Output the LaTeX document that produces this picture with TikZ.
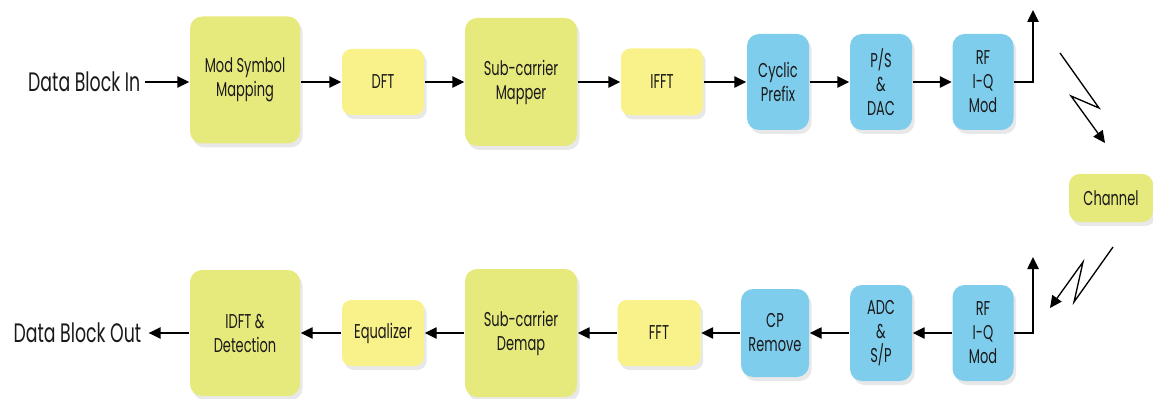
\documentclass[tikz,border=0pt]{standalone}
\usepackage{fontspec}
\setmainfont[FakeStretch=0.65]{Poppins}
\usetikzlibrary{arrows.meta,shadows}

\definecolor{ygreen}{HTML}{E6E97C}
\definecolor{yell}{HTML}{F9F189}
\definecolor{blu}{HTML}{7ECDEC}
\definecolor{txt}{HTML}{1A1A1A}

\tikzset{every picture/.style={line width=1.1pt}}
\tikzset{
  sz/.style 2 args={minimum width=#1*0.75pt, minimum height=#2*0.75pt},
  blk/.style={rounded corners=9pt, inner sep=0pt, align=center, text=txt,
    font=\fontsize{15}{18}\selectfont,
    drop shadow={shadow xshift=2pt, shadow yshift=-3pt, opacity=0.18}},
  bigblk/.style={blk, fill=ygreen},
  fftblk/.style={blk, fill=yell, rounded corners=7pt},
  rfblk/.style={blk, fill=blu},
  arr/.style={-{Triangle[length=9pt,width=8.5pt]}, draw=black},
  lbl/.style={font=\fontsize{20}{24}\selectfont, text=txt, inner sep=0pt}
}

\begin{document}
\begin{tikzpicture}[x=0.75pt,y=0.75pt,yscale=-1,xscale=1]
\useasboundingbox (0,0) rectangle (1153,399);

% Transmitter
\node[lbl, anchor=east] (din) at (141,82) {Data Block In};
\node[bigblk, sz={110}{127}] (mod) at (245,80) {Mod Symbol\\Mapping};
\node[fftblk, sz={82}{66}] (dft) at (383,82) {DFT};
\node[bigblk, sz={112}{128}] (map) at (521,82) {Sub-carrier\\Mapper};
\node[fftblk, sz={82}{67}] (ifft) at (662,82) {IFFT};
\node[rfblk, sz={62}{96}] (cp) at (778,82) {Cyclic\\Prefix};
\node[rfblk, sz={62}{96}] (ps) at (881,82) {P/S\\\&\\DAC};
\node[rfblk, sz={61}{96}] (rftx) at (983,82) {RF\\I-Q\\Mod};

\draw[arr] (din.east) ++(4,0) -- (mod.west |- din.east);
\draw[arr] (mod.east |- dft) -- (dft);
\draw[arr] (dft) -- (map);
\draw[arr] (map.east |- ifft) -- (ifft);
\draw[arr] (ifft) -- (cp);
\draw[arr] (cp) -- (ps);
\draw[arr] (ps) -- (rftx);

% Antenna tx
\coordinate (anttx) at (1033,10);
\draw[arr] (rftx.east) -| (anttx);

% Channel
\node[bigblk, sz={84}{48}, rounded corners=8pt] (chan) at (1111,198) {Channel};

\coordinate (z1a) at (1060,53);
\coordinate (z1b) at (1099,108);
\coordinate (z1c) at (1071,96);
\coordinate (z1d) at (1105,143);
\draw[arr, line width=1pt] (z1a) -- (z1b) -- (z1c) -- (z1d);

\coordinate (z2a) at (1113,247);
\coordinate (z2b) at (1074,302);
\coordinate (z2c) at (1083,262);
\coordinate (z2d) at (1050,308);
\draw[arr, line width=1pt] (z2a) -- (z2b) -- (z2c) -- (z2d);

% Receiver
\node[rfblk, sz={61}{96}] (rfrx) at (983,333) {RF\\I-Q\\Mod};
\node[rfblk, sz={62}{96}] (adc) at (881,333) {ADC\\\&\\S/P};
\node[rfblk, sz={68}{88}] (cpr) at (775,333) {CP\\Remove};
\node[fftblk, sz={83}{66}] (fft) at (659,333) {FFT};
\node[bigblk, sz={112}{128}] (demap) at (521,333) {Sub-carrier\\Demap};
\node[fftblk, sz={82}{66}] (eq) at (383,333) {Equalizer};
\node[bigblk, sz={110}{126}] (idft) at (245,333) {IDFT \&\\Detection};
\node[lbl, anchor=east] (dout) at (142,333) {Data Block Out};

\coordinate (antrx) at (1033,257);
\draw[arr] (rfrx.east) -| (antrx);

\draw[arr] (rfrx) -- (adc);
\draw[arr] (adc) -- (cpr);
\draw[arr] (cpr) -- (fft);
\draw[arr] (fft) -- (demap);
\draw[arr] (demap) -- (eq);
\draw[arr] (eq) -- (idft);
\draw[arr] (idft.west) -- ([xshift=5]dout.east);

\end{tikzpicture}
\end{document}
